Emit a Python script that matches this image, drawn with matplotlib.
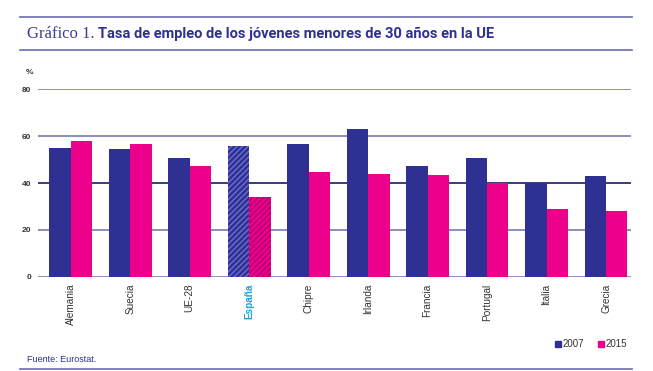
import matplotlib.pyplot as plt
import numpy as np
from matplotlib.patches import Rectangle
from matplotlib.lines import Line2D

# Data
countries = ['Alemania', 'Suecia', 'UE-28', 'España', 'Chipre',
             'Irlanda', 'Francia', 'Portugal', 'Italia', 'Grecia']
rate_2007 = [55.0, 54.5, 50.7, 55.8, 56.7, 63.1, 47.3, 50.7, 39.9, 43.0]
rate_2015 = [57.9, 56.7, 47.3, 34.0, 44.7, 43.8, 43.4, 39.9, 28.9, 28.1]
yticks = [0, 20, 40, 60, 80]
highlight = 'España'

navy = '#2e3192'
magenta = '#ec008c'
rule = '#6b6bb0'
grid_c = '#8c8cc0'

plt.rcParams['hatch.linewidth'] = 1.0
fig = plt.figure(figsize=(6.53, 3.71), dpi=100)
ax = fig.add_axes([38 / 653, 1 - 276.7 / 371, (631 - 38) / 653, (276.7 - 89.3) / 371])

x = np.arange(len(countries))
w = 0.36
for i, c in enumerate(countries):
    if c == highlight:
        # España is drawn hatched in the original
        ax.bar(x[i] - w / 2, rate_2007[i], w, color=navy, edgecolor='#6a6fd0',
               hatch='//////', linewidth=0, zorder=3)
        ax.bar(x[i] + w / 2, rate_2015[i], w, color=magenta, edgecolor='#b0006a',
               hatch='//////', linewidth=0, zorder=3)
    else:
        ax.bar(x[i] - w / 2, rate_2007[i], w, color=navy, linewidth=0, zorder=3)
        ax.bar(x[i] + w / 2, rate_2015[i], w, color=magenta, linewidth=0, zorder=3)

for t in yticks:
    col = '#3a3a80' if t == 40 else grid_c
    ax.axhline(t, color=col, linewidth=1.4, zorder=1)

ax.set_ylim(0, 80)
ax.set_xlim(-0.55, 9.42)
for s in ax.spines.values():
    s.set_visible(False)
ax.set_yticks(yticks)
ax.set_yticklabels([str(t) for t in yticks], fontsize=6, color='#333333',
                   family='Liberation Sans', fontweight='bold')
ax.tick_params(axis='y', length=0, pad=5)
ax.tick_params(axis='x', length=0, pad=5)
ax.set_xticks(x)
ax.set_xticklabels(countries, rotation=90, fontsize=7.2, color='#333333',
                   family='Liberation Sans', va='top', ha='center')
for lbl in ax.get_xticklabels():
    if lbl.get_text() == highlight:
        lbl.set_color('#1ba1dc')
        lbl.set_fontweight('bold')

fig.text(26 / 653, 1 - 72 / 371, '%', fontsize=6, color='#333333', va='center',
         family='Liberation Sans', fontweight='bold')

# Title block with rules
for yy in (17, 50, 369):
    fig.add_artist(Line2D([20 / 653, 632 / 653], [1 - yy / 371, 1 - yy / 371],
                          color=rule, linewidth=1.2))
t1 = fig.text(27 / 653, 1 - 34 / 371, 'Gráfico 1.', fontsize=12,
              family='Liberation Serif', color='#3b3f8f', va='center')
fig.canvas.draw()
bb = t1.get_window_extent()
fig.text(bb.x1 / fig.bbox.width + 0.005, 1 - 34 / 371,
         'Tasa de empleo de los jóvenes menores de 30 años en la UE',
         fontsize=10.5, fontweight='bold', color=navy, va='center', family='Roboto')

# Legend
fig.add_artist(Rectangle((555 / 653, 1 - 347 / 371), 6 / 653, 6 / 371,
                         transform=fig.transFigure, color=navy))
fig.text(563 / 653, 1 - 344 / 371, '2007', fontsize=7, color='#333333',
         va='center', family='Liberation Sans')
fig.add_artist(Rectangle((598 / 653, 1 - 347 / 371), 6 / 653, 6 / 371,
                         transform=fig.transFigure, color=magenta))
fig.text(606 / 653, 1 - 344 / 371, '2015', fontsize=7, color='#333333',
         va='center', family='Liberation Sans')

fig.text(27 / 653, 1 - 360 / 371, 'Fuente: Eurostat.', fontsize=6.5,
         color=navy, va='center', family='Liberation Sans')

fig.savefig('out.png', dpi=100)
